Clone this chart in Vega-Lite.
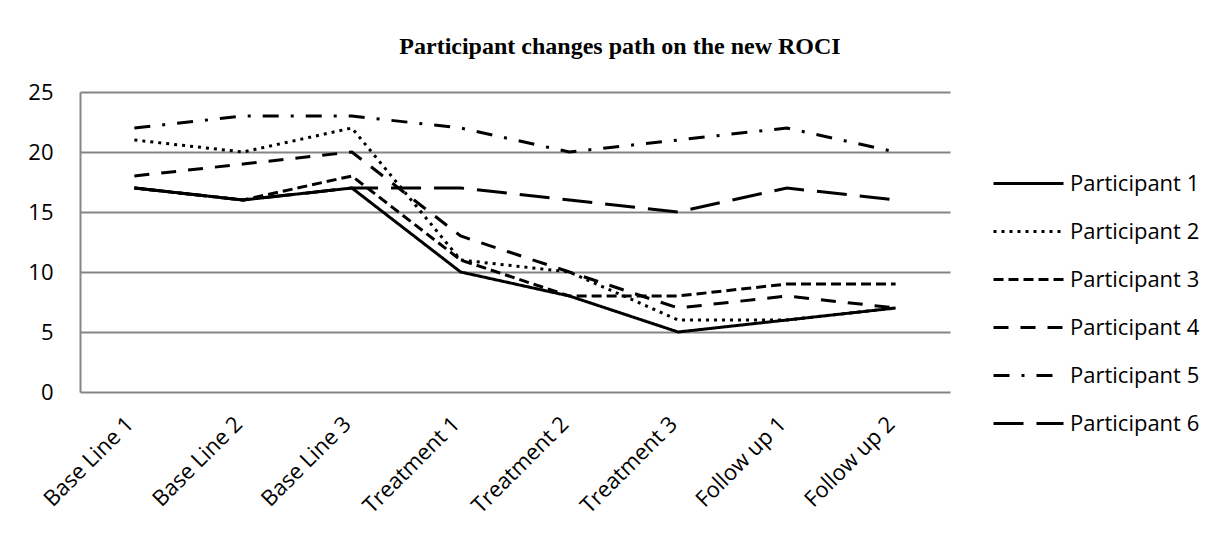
{
  "$schema": "https://vega.github.io/schema/vega-lite/v6.json",
  "width": 870,
  "height": 300,
  "autosize": {"type": "none"},
  "padding": {"left": 80, "top": 92, "right": 267, "bottom": 146},
  "background": "white",
  "title": {
    "text": "Participant changes path on the new ROCI",
    "font": "Liberation Serif",
    "fontSize": 24,
    "fontWeight": "bold",
    "color": "black",
    "anchor": "middle",
    "baseline": "alphabetic",
    "offset": 3,
    "dx": 105
  },
  "data": {
    "values": [
      {"participant": "Participant 1", "phase": "Base Line 1", "score": 17},
      {"participant": "Participant 1", "phase": "Base Line 2", "score": 16},
      {"participant": "Participant 1", "phase": "Base Line 3", "score": 17},
      {"participant": "Participant 1", "phase": "Treatment 1", "score": 10},
      {"participant": "Participant 1", "phase": "Treatment 2", "score": 8},
      {"participant": "Participant 1", "phase": "Treatment 3", "score": 5},
      {"participant": "Participant 1", "phase": "Follow up 1", "score": 6},
      {"participant": "Participant 1", "phase": "Follow up 2", "score": 7},
      {"participant": "Participant 2", "phase": "Base Line 1", "score": 21},
      {"participant": "Participant 2", "phase": "Base Line 2", "score": 20},
      {"participant": "Participant 2", "phase": "Base Line 3", "score": 22},
      {"participant": "Participant 2", "phase": "Treatment 1", "score": 11},
      {"participant": "Participant 2", "phase": "Treatment 2", "score": 10},
      {"participant": "Participant 2", "phase": "Treatment 3", "score": 6},
      {"participant": "Participant 2", "phase": "Follow up 1", "score": 6},
      {"participant": "Participant 2", "phase": "Follow up 2", "score": 7},
      {"participant": "Participant 3", "phase": "Base Line 1", "score": 17},
      {"participant": "Participant 3", "phase": "Base Line 2", "score": 16},
      {"participant": "Participant 3", "phase": "Base Line 3", "score": 18},
      {"participant": "Participant 3", "phase": "Treatment 1", "score": 11},
      {"participant": "Participant 3", "phase": "Treatment 2", "score": 8},
      {"participant": "Participant 3", "phase": "Treatment 3", "score": 8},
      {"participant": "Participant 3", "phase": "Follow up 1", "score": 9},
      {"participant": "Participant 3", "phase": "Follow up 2", "score": 9},
      {"participant": "Participant 4", "phase": "Base Line 1", "score": 18},
      {"participant": "Participant 4", "phase": "Base Line 2", "score": 19},
      {"participant": "Participant 4", "phase": "Base Line 3", "score": 20},
      {"participant": "Participant 4", "phase": "Treatment 1", "score": 13},
      {"participant": "Participant 4", "phase": "Treatment 2", "score": 10},
      {"participant": "Participant 4", "phase": "Treatment 3", "score": 7},
      {"participant": "Participant 4", "phase": "Follow up 1", "score": 8},
      {"participant": "Participant 4", "phase": "Follow up 2", "score": 7},
      {"participant": "Participant 5", "phase": "Base Line 1", "score": 22},
      {"participant": "Participant 5", "phase": "Base Line 2", "score": 23},
      {"participant": "Participant 5", "phase": "Base Line 3", "score": 23},
      {"participant": "Participant 5", "phase": "Treatment 1", "score": 22},
      {"participant": "Participant 5", "phase": "Treatment 2", "score": 20},
      {"participant": "Participant 5", "phase": "Treatment 3", "score": 21},
      {"participant": "Participant 5", "phase": "Follow up 1", "score": 22},
      {"participant": "Participant 5", "phase": "Follow up 2", "score": 20},
      {"participant": "Participant 6", "phase": "Base Line 1", "score": 17},
      {"participant": "Participant 6", "phase": "Base Line 2", "score": 16},
      {"participant": "Participant 6", "phase": "Base Line 3", "score": 17},
      {"participant": "Participant 6", "phase": "Treatment 1", "score": 17},
      {"participant": "Participant 6", "phase": "Treatment 2", "score": 16},
      {"participant": "Participant 6", "phase": "Treatment 3", "score": 15},
      {"participant": "Participant 6", "phase": "Follow up 1", "score": 17},
      {"participant": "Participant 6", "phase": "Follow up 2", "score": 16}
    ]
  },
  "mark": {"type": "line", "strokeWidth": 3, "color": "black"},
  "encoding": {
    "x": {
      "field": "phase",
      "type": "ordinal",
      "sort": ["Base Line 1", "Base Line 2", "Base Line 3", "Treatment 1", "Treatment 2", "Treatment 3", "Follow up 1", "Follow up 2"],
      "axis": {
        "title": null,
        "domain": false,
        "ticks": false,
        "grid": false,
        "labelAngle": -45,
        "labelAlign": "right",
        "labelBaseline": "alphabetic",
        "labelPadding": 33,
        "labelFont": "Open Sans",
        "labelFontSize": 22,
        "labelColor": "black",
        "labelOverlap": false,
        "labelBound": false
      }
    },
    "y": {
      "field": "score",
      "type": "quantitative",
      "scale": {"domain": [0, 25], "nice": false, "zero": true},
      "axis": {
        "title": null,
        "values": [0, 5, 10, 15, 20, 25],
        "domain": true,
        "domainColor": "#868686",
        "domainWidth": 2,
        "ticks": false,
        "tickSize": 0,
        "grid": true,
        "gridColor": "#868686",
        "gridWidth": 2,
        "gridOpacity": 1,
        "labelPadding": 27,
        "labelFont": "Open Sans",
        "labelFontSize": 22,
        "labelColor": "black",
        "labelAlign": "right",
        "labelBaseline": "middle"
      }
    },
    "strokeDash": {
      "field": "participant",
      "type": "nominal",
      "scale": {
        "domain": ["Participant 1", "Participant 2", "Participant 3", "Participant 4", "Participant 5", "Participant 6"],
        "range": [[1, 0], [3, 5], [10, 5], [15, 12], [16, 12, 3, 12], [30, 13]]
      },
      "legend": {
        "title": null,
        "orient": "none",
        "legendX": 912,
        "legendY": 55,
        "symbolType": "stroke",
        "symbolSize": 4900,
        "symbolStrokeWidth": 3,
        "symbolStrokeColor": "black",
        "labelFont": "Open Sans",
        "labelFontSize": 22,
        "labelColor": "black",
        "labelOffset": 5,
        "rowPadding": 0
      }
    }
  },
  "config": {"view": {"stroke": null}}
}
